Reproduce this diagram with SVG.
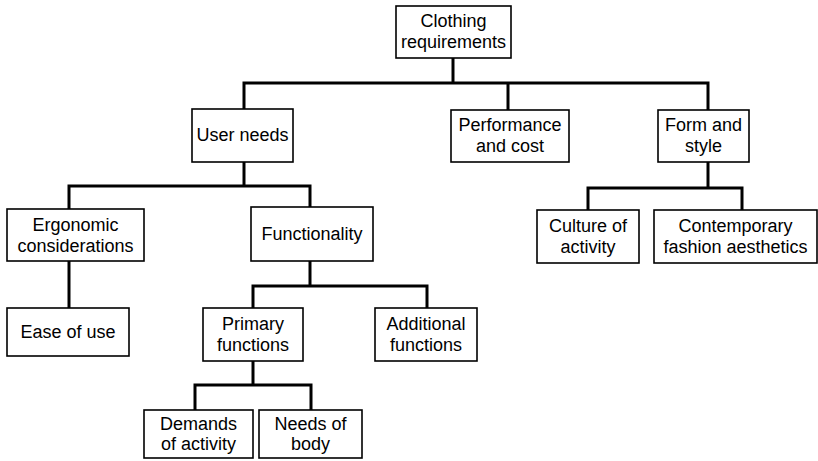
<svg xmlns="http://www.w3.org/2000/svg" width="818" height="461" viewBox="0 0 818 461">
<style>
.box{fill:#fff;stroke:#000;stroke-width:1.6}
.lbl{font-family:"Liberation Sans",Arial,sans-serif;font-size:18px;fill:#000;text-anchor:middle}
.con{fill:none;stroke:#000;stroke-width:3;stroke-linejoin:miter}
</style>
<rect width="818" height="461" fill="#fff"/>
<g id="connectors">
<path class="con" d="M453,58 V83"/>
<path class="con" d="M244,109 V83 H708 V110"/>
<path class="con" d="M508,83 V110"/>
<path class="con" d="M244,162 V186"/>
<path class="con" d="M69,209 V186 H310 V207"/>
<path class="con" d="M69,261 V308"/>
<path class="con" d="M310,261 V286"/>
<path class="con" d="M253,308 V286 H427 V308"/>
<path class="con" d="M253,361 V385"/>
<path class="con" d="M195,410 V385 H311 V410"/>
<path class="con" d="M708,162 V188"/>
<path class="con" d="M588,210 V188 H742 V210"/>
</g>
<g id="clothing"><rect class="box" x="396" y="6" width="115" height="52"/><text class="lbl" x="453.5" y="27">Clothing</text><text class="lbl" x="453.5" y="48">requirements</text></g>
<g id="user-needs"><rect class="box" x="192" y="109" width="101" height="53"/><text class="lbl" x="242.5" y="141">User needs</text></g>
<g id="performance"><rect class="box" x="451" y="110" width="118" height="52"/><text class="lbl" x="510" y="131">Performance</text><text class="lbl" x="510" y="152">and cost</text></g>
<g id="form"><rect class="box" x="658" y="110" width="91" height="52"/><text class="lbl" x="703.5" y="131">Form and</text><text class="lbl" x="703.5" y="152">style</text></g>
<g id="ergonomic"><rect class="box" x="7" y="209" width="137" height="52"/><text class="lbl" x="75.5" y="231">Ergonomic</text><text class="lbl" x="75.5" y="252">considerations</text></g>
<g id="functionality"><rect class="box" x="251" y="207" width="122" height="54"/><text class="lbl" x="312" y="240">Functionality</text></g>
<g id="ease"><rect class="box" x="7" y="308" width="122" height="48"/><text class="lbl" x="68" y="338">Ease of use</text></g>
<g id="primary"><rect class="box" x="203" y="308" width="100" height="53"/><text class="lbl" x="253" y="330">Primary</text><text class="lbl" x="253" y="351">functions</text></g>
<g id="additional"><rect class="box" x="375" y="308" width="102" height="53"/><text class="lbl" x="426" y="330">Additional</text><text class="lbl" x="426" y="351">functions</text></g>
<g id="culture"><rect class="box" x="537" y="210" width="102" height="53"/><text class="lbl" x="588" y="232">Culture of</text><text class="lbl" x="588" y="253">activity</text></g>
<g id="contemporary"><rect class="box" x="654" y="210" width="163" height="53"/><text class="lbl" x="735.5" y="232">Contemporary</text><text class="lbl" x="735.5" y="253">fashion aesthetics</text></g>
<g id="demands"><rect class="box" x="144" y="410" width="109" height="48"/><text class="lbl" x="198.5" y="430">Demands</text><text class="lbl" x="198.5" y="450">of activity</text></g>
<g id="needs-body"><rect class="box" x="259" y="410" width="103" height="48"/><text class="lbl" x="310.5" y="430">Needs of</text><text class="lbl" x="310.5" y="450">body</text></g>
</svg>
